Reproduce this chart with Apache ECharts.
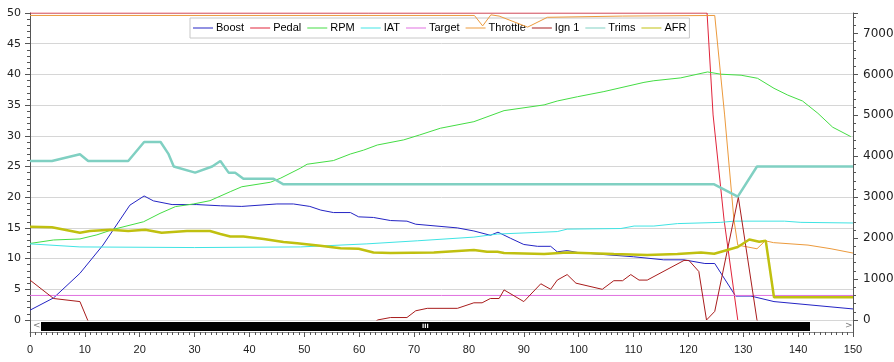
<!DOCTYPE html>
<html>
<head>
<meta charset="utf-8">
<script src="https://cdn.jsdelivr.net/npm/echarts@6/dist/echarts.min.js"></script>
<style>
html,body{margin:0;padding:0;background:#fff;}
#chart{width:894px;height:362px;}
</style>
</head>
<body>
<div id="chart"></div>
<script>
// ---- data ([x, value] pairs) ----
const seriesNames = ['Boost','Pedal','RPM','IAT','Target','Throttle','Ign 1','Trims','AFR'];
const xTicks = {min:0, max:150, interval:10};
const leftTicks = {min:0, max:50, interval:5};
const rightTicks = {min:0, max:7500, interval:1000};

const boost = [[0,1.6],[4.3,3.6],[9.1,7.6],[13.3,12.2],[18.2,18.7],[20.8,20.2],[22.5,19.4],[25.9,18.8],[30.4,18.8],[34.7,18.6],[38.6,18.5],[45,18.9],[48,18.9],[51,18.5],[53,17.9],[55.3,17.5],[58.4,17.5],[59.9,16.8],[62.6,16.7],[65.7,16.2],[68.7,16.1],[70.3,15.6],[77.9,15.0],[80.9,14.5],[83.9,13.8],[85.3,14.3],[87.6,13.3],[90,12.3],[92.5,12.0],[94.9,12.0],[96.1,11.1],[97.9,11.3],[99.8,11.0],[104,10.7],[110,10.3],[115.5,9.8],[119.2,9.8],[123,9.2],[124.8,9.2],[128.6,3.9],[131.4,3.9],[135.6,3.0],[150,1.8]];
const pedal = [[0,50],[123.4,50],[124.5,33.4],[126.5,16.3],[129,0]];
const rpm = [[0,1870],[4.3,1955],[9.1,1980],[12.2,2080],[15.2,2215],[20.7,2400],[23.7,2605],[26.5,2770],[29.8,2835],[32.8,2915],[36.5,3135],[38.6,3255],[43.8,3365],[45.6,3460],[49.3,3710],[50.5,3805],[55.3,3895],[58.4,4055],[60.8,4150],[63.3,4275],[68.1,4400],[71,4520],[74.8,4685],[80.9,4845],[86.4,5115],[93.7,5255],[96.1,5350],[99.8,5455],[104.6,5580],[111.9,5805],[113.7,5845],[118.6,5915],[123.5,6060],[125.9,6005],[129.6,5980],[132.6,5905],[135.6,5660],[138.1,5495],[140.8,5350],[143.6,5050],[146.3,4710],[149.6,4480]];
const iat = [[0,12.4],[9.1,11.9],[30,11.8],[49.3,11.9],[61.4,12.4],[70.6,12.9],[80.9,13.5],[85.2,14.0],[96.1,14.4],[97.9,14.8],[107.7,14.9],[110.1,15.3],[113.7,15.3],[118,15.7],[125.9,15.9],[128.3,16.1],[137.5,16.1],[140.5,15.9],[150,15.8]];
const target = [[0,4],[150,4]];
const throttle = [[0,49.6],[81,49.6],[82.5,47.9],[84,49.7],[85.5,49.5],[90.7,47.7],[94.3,49.3],[108,49.5],[124.8,49.6],[126.6,33.4],[128.3,16.3],[129,12.2],[132.5,11.6],[134,12.9],[135.5,12.6],[141.8,12.2],[146,11.6],[150,10.9]];
const ign1 = [[0,6.5],[4.3,3.5],[9.1,3.0],[10.5,0],[11.5,-2],[61.5,-2],[63.3,0],[65.7,0.4],[68.7,0.4],[70.3,1.5],[72.4,1.9],[77.9,1.9],[80.9,2.8],[82.4,2.8],[83.9,3.5],[85.5,3.5],[86.4,4.9],[90,3.0],[93.1,5.9],[94.9,5.0],[96.1,6.5],[97.9,7.4],[99.5,6.0],[104.3,5.0],[106.4,6.4],[108,6.4],[109.5,7.4],[111,6.5],[112.5,6.5],[119.2,9.7],[120.1,9.7],[121.9,7.9],[123.3,0],[124.8,1.4],[129.1,20],[132.5,0],[133.5,-2],[150,-2]];
const trims = [[0,25.9],[4,25.9],[9.1,27],[10.6,25.9],[17.9,25.9],[20.8,29],[23.8,29],[25.2,27.1],[26.2,25],[30.1,24],[33.2,25],[34.7,25.9],[36.2,24],[37.4,24],[38.9,23],[44.4,23],[46.2,22.1],[124.7,22.1],[129,20.1],[132.5,25],[150,25]];
const afr = [[0,15.2],[4,15.1],[9.1,14.2],[10.9,14.5],[14.6,14.7],[17.9,14.5],[21,14.7],[24,14.2],[28.6,14.5],[32.8,14.5],[34.7,14.0],[36.5,13.6],[38.9,13.6],[42.6,13.2],[46.2,12.7],[48.7,12.5],[52.9,12.1],[56.6,11.7],[59.9,11.6],[62.6,11.0],[65.7,10.9],[73.6,11.0],[80.9,11.4],[83.3,11.1],[85.2,11.1],[86.4,10.9],[93.7,10.75],[97.9,11.0],[106.4,10.75],[112.5,10.6],[118,10.75],[122.3,11.0],[124.7,10.8],[129,11.9],[131.1,13.1],[132.9,12.75],[134.1,12.9],[135.6,3.7],[150,3.7]];

const seriesData = [boost, pedal, rpm, iat, target, throttle, ign1, trims, afr];
const colors = ['#2424c4','#e0243a','#44dd44','#40e4e4','#e070e0','#ec9a3c','#a81c1c','#80d0c2','#c0c010'];
const widths = [1,1,1,1,1,1,1,2.5,2.5];
const axisIdx = [0,0,1,0,0,0,0,0,0];

const chart = echarts.init(document.getElementById('chart'), null, {renderer:'canvas'});
const series = seriesNames.map((n,i)=>({
  name:n, type:'line', data:seriesData[i], yAxisIndex:axisIdx[i],
  symbol:'none', showSymbol:false, smooth:false, animation:false, z:2,
  color:colors[i], lineStyle:{color:colors[i], width:widths[i]}
}));

chart.setOption({
  animation:false,
  backgroundColor:'#fff',
  grid:{left:30, right:41, top:13, bottom:42, containLabel:false, outerBoundsMode:'none'},
  legend:{
    data:seriesNames.map((n,i)=>({name:n, itemStyle:{color:colors[i], opacity:1, borderWidth:0}})),
    icon:'rect',
    left:190, top:18, z:1, selectedMode:false,
    backgroundColor:'#fff', borderColor:'#c8c8c8', borderWidth:1, borderRadius:0,
    padding:[3,3,3,3], itemGap:6, itemWidth:20, itemHeight:1,
    textStyle:{fontFamily:'Liberation Sans', fontSize:11, color:'#000', lineHeight:14, padding:[0,0,0,-2]}
  },
  xAxis:{
    type:'value', min:xTicks.min, max:xTicks.max, interval:xTicks.interval, offset:12,
    axisLine:{show:true, onZero:false, lineStyle:{color:'#888', width:1}},
    axisTick:{show:true, length:5, lineStyle:{color:'#555'}},
    minorTick:{show:true, splitNumber:10, length:3, lineStyle:{color:'#555'}},
    axisLabel:{margin:12, fontFamily:'Liberation Sans', fontSize:11, color:'#222'},
    splitLine:{show:false}
  },
  yAxis:[{
    type:'value', position:'left', min:leftTicks.min, max:leftTicks.max, interval:leftTicks.interval,
    axisLine:{show:true, lineStyle:{color:'#555'}},
    axisTick:{show:true, length:5, lineStyle:{color:'#555'}},
    minorTick:{show:true, splitNumber:5, length:3, lineStyle:{color:'#555'}},
    axisLabel:{margin:9, fontFamily:'DejaVu Sans', fontSize:11, color:'#222'},
    splitLine:{show:true, lineStyle:{color:'#d6d6d6', width:1}}
  },{
    type:'value', position:'right', min:rightTicks.min, max:rightTicks.max, interval:rightTicks.interval,
    axisLine:{show:true, lineStyle:{color:'#555'}},
    axisTick:{show:true, length:5, lineStyle:{color:'#555'}},
    minorTick:{show:true, splitNumber:5, length:3, lineStyle:{color:'#555'}},
    axisLabel:{margin:10, fontFamily:'DejaVu Sans', fontSize:12, color:'#222', showMaxLabel:false,
      formatter:function(v){return String(v);}},
    splitLine:{show:false}
  }],
  graphic:[
    {type:'line', z:10, shape:{x1:30.5,y1:320,x2:30.5,y2:336}, style:{stroke:'#555', lineWidth:1}},
    {type:'line', z:10, shape:{x1:853.5,y1:320,x2:853.5,y2:336}, style:{stroke:'#555', lineWidth:1}},
    {type:'rect', z:10, shape:{x:41,y:322,width:769,height:9}, style:{fill:'#000'}},
    {type:'text', z:10, x:33, y:321, style:{text:'<', fill:'#777', font:'9px DejaVu Sans'}},
    {type:'text', z:10, x:845, y:321, style:{text:'>', fill:'#777', font:'9px DejaVu Sans'}},
    {type:'text', z:11, x:422, y:323, style:{text:'III', fill:'#fff', font:'bold 6px DejaVu Sans'}}
  ],
  series:series
});
</script>
</body>
</html>
